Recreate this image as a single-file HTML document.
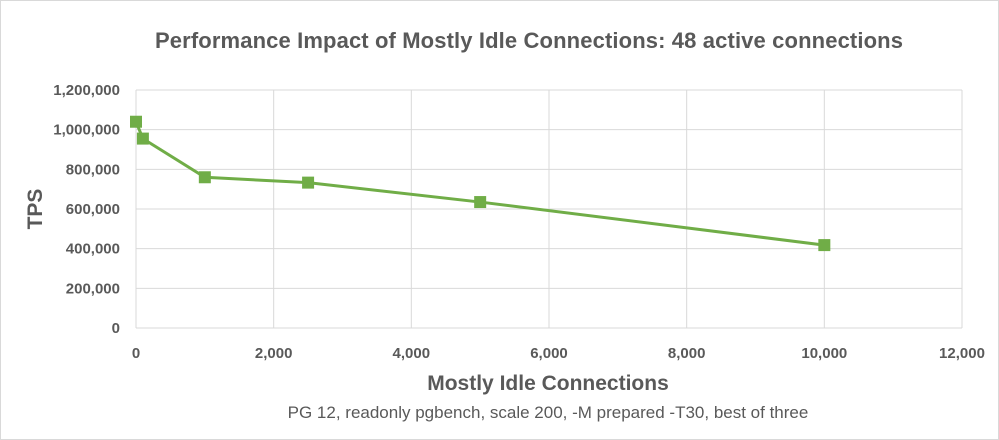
<!DOCTYPE html>
<html><head><meta charset="utf-8"><style>
html,body{margin:0;padding:0;background:#fff;}
svg{display:block;font-family:"Liberation Sans",sans-serif;}
</style></head><body>
<svg id="chart" width="999" height="440">
<rect x="0.5" y="0.5" width="998" height="439" fill="#fff" stroke="#d9d9d9"/>
<text x="529" y="48" text-anchor="middle" font-size="22" font-weight="bold" fill="#595959" textLength="748">Performance Impact of Mostly Idle Connections: 48 active connections</text>
<g id="grid"></g><g id="axes"></g><g id="series"></g>
<text x="548" y="390" text-anchor="middle" font-size="21" font-weight="bold" fill="#595959">Mostly Idle Connections</text>
<text x="548" y="418" text-anchor="middle" font-size="17" fill="#595959">PG 12, readonly pgbench, scale 200, -M prepared -T30, best of three</text>
<text transform="translate(42,209) rotate(-90)" text-anchor="middle" font-size="21" font-weight="bold" fill="#595959">TPS</text>
</svg>
<script>
const xValues=[0,100,1000,2500,5000,10000];
const tpsValues=[1040000,955000,760000,733000,635000,418000];
const xTicks=[0,2000,4000,6000,8000,10000,12000];
const yTicks=[0,200000,400000,600000,800000,1000000,1200000];
const L=136,R=962,T=90,B=328;
const xs=v=>L+(v-0)/12000*(R-L);
const ys=v=>B-v/1200000*(B-T);
const NS="http://www.w3.org/2000/svg";
function mk(t,a,p){const e=document.createElementNS(NS,t);for(const k in a)e.setAttribute(k,a[k]);p.appendChild(e);return e;}
const grid=document.getElementById('grid'),axes=document.getElementById('axes'),ser=document.getElementById('series');
const fmt=v=>v.toLocaleString('en-US');
yTicks.forEach(v=>{
 const l=mk('line',{x1:L,x2:R,y1:ys(v),y2:ys(v),stroke:'#d9d9d9','stroke-width':1},grid);
 
 
 const t=mk('text',{x:L-16,y:ys(v)+5,'text-anchor':'end','font-size':15,'font-weight':'bold',fill:'#595959'},axes);
 t.textContent=fmt(v);
 
 
});
xTicks.forEach(v=>{
 const l=mk('line',{x1:xs(v),x2:xs(v),y1:T,y2:B,stroke:'#d9d9d9','stroke-width':1},grid);
 
 
 const t=mk('text',{x:xs(v),y:B+30,'text-anchor':'middle','font-size':15,'font-weight':'bold',fill:'#595959'},axes);
 t.textContent=fmt(v);
 
 
});
const pts=xValues.map((x,i)=>xs(x)+','+ys(tpsValues[i])).join(' ');
const pl=mk('polyline',{points:pts,fill:'none',stroke:'#70ad47','stroke-width':3},ser);


xValues.forEach((x,i)=>{
 const r=mk('rect',{x:xs(x)-6,y:ys(tpsValues[i])-6,width:12,height:12,fill:'#70ad47'},ser);
 
 
});
</script>
</body></html>
